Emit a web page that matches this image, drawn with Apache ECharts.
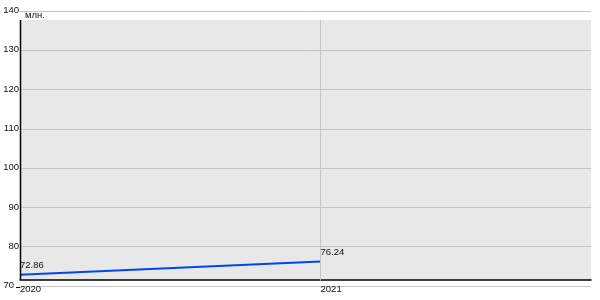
<!DOCTYPE html>
<html><head><meta charset="utf-8">
<script src="https://cdn.jsdelivr.net/npm/echarts@6/dist/echarts.min.js"></script>
<style>html,body{margin:0;padding:0;background:#fff}#c{width:600px;height:300px}</style>
</head><body><div id="c"></div>
<script>
const years = [2020, 2021];
const values = [72.86, 76.24];
const yTicks = [70, 80, 90, 100, 110, 120, 130, 140];
const unit = 'млн.';

const chart = echarts.init(document.getElementById('c'));
const font = 'Liberation Sans, Arial, sans-serif';
chart.setOption({
  animation: false,
  title: { text: unit, left: 20, top: 5, textStyle: { fontSize: 9.5, fontWeight: 'normal', color: '#111', fontFamily: font } },
  grid: { left: 20, right: 9, top: 11, bottom: 14, containLabel: false },
  graphic: [
    { type: 'rect', z: -10, zlevel: 0, silent: true, shape: { x: 20, y: 20, width: 571, height: 260 }, style: { fill: '#e8e8e8' } },
    { type: 'line', z: 100, silent: true, shape: { x1: 20.5, y1: 20, x2: 20.5, y2: 280 }, style: { stroke: '#000', lineWidth: 1.5 } },
    { type: 'line', z: 100, silent: true, shape: { x1: 16, y1: 287.5, x2: 20, y2: 287.5 }, style: { stroke: '#000', lineWidth: 1 } }
  ],
  xAxis: {
    type: 'value', min: years[0], max: 2021.9, interval: 1,
    offset: -6,
    axisLine: { show: true, onZero: false, lineStyle: { color: '#000', width: 1.5 } },
    axisTick: { show: false },
    axisLabel: {
      margin: 4, align: 'left', fontSize: 9.5, color: '#111', fontFamily: font,
      showMaxLabel: false,
      formatter: v => (Number.isInteger(v) ? String(v) : '')
    },
    splitLine: { show: false }
  },
  yAxis: {
    type: 'value', min: yTicks[0], max: yTicks[yTicks.length - 1], interval: 10,
    axisLine: { show: false }, axisTick: { show: false },
    axisLabel: {
      margin: 1, verticalAlign: 'middle', lineHeight: 10, padding: [0, 0, 1, 0], fontSize: 9.5, color: '#111', fontFamily: font,
      formatter: v => (v === yTicks[0] ? '{lo|' + v + '}' : String(v)),
      rich: { lo: { fontSize: 9.5, fontFamily: font, color: '#111', padding: [0, 5, 0, 0], lineHeight: 10 } }
    },
    splitLine: { show: true, lineStyle: { color: '#c4c4c4', width: 1 } }
  },
  series: [{
    type: 'line',
    data: years.map((y, i) => [y, values[i]]),
    symbol: 'circle', symbolSize: 1, showSymbol: true,
    itemStyle: { color: 'rgba(0,0,0,0)' },
    lineStyle: { color: '#0046e6', width: 2 },
    label: {
      show: true, position: 'top', align: 'left', distance: 4, lineHeight: 10,
      fontSize: 9.5, color: '#111', fontFamily: font,
      formatter: p => p.value[1].toFixed(2)
    },
    markLine: {
      silent: true, symbol: 'none', label: { show: false },
      lineStyle: { color: '#c4c4c4', type: 'solid', width: 1 },
      data: [[{ coord: [years[1], 71.4] }, { coord: [years[1], 137.7] }]]
    }
  }]
});
</script></body></html>
